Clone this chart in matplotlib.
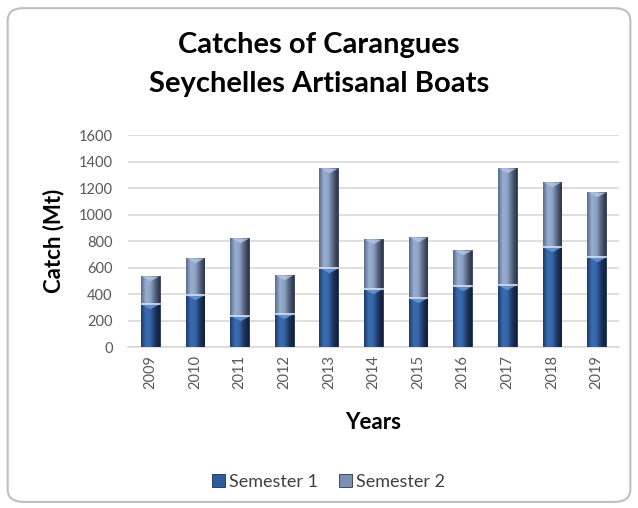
import matplotlib
matplotlib.use("Agg")
import matplotlib.pyplot as plt
import numpy as np
from matplotlib.patches import FancyBboxPatch
from matplotlib.colors import LinearSegmentedColormap

plt.rcParams['font.family'] = ['Lato', 'DejaVu Sans']

years = ['2009', '2010', '2011', '2012', '2013', '2014', '2015', '2016', '2017', '2018', '2019']
semester1 = [328, 393, 234, 252, 597, 436, 371, 459, 471, 756, 680]
totals = [534, 673, 824, 542, 1353, 819, 832, 731, 1353, 1247, 1172]
semester2 = [t - s for t, s in zip(totals, semester1)]
yticks = [0, 200, 400, 600, 800, 1000, 1200, 1400, 1600]

fig = plt.figure(figsize=(6.38, 5.08), dpi=100)
fig.patch.set_facecolor('white')

# rounded frame
frame = FancyBboxPatch((0.012, 0.012), 0.976, 0.972, boxstyle="round,pad=0,rounding_size=0.025",
                       transform=fig.transFigure, facecolor='none', edgecolor='#bfbfbf',
                       linewidth=1.5, zorder=-10)
fig.patches.append(frame)

ax = fig.add_axes([0.2006, 0.3169, 0.7696, 0.4173])
ax.set_facecolor('none')
x = np.arange(len(years))
w = 0.42

b1 = ax.bar(x, semester1, width=w, color='#2f5b99', edgecolor='#1a2f55', linewidth=0.6, zorder=3,
            label='Semester 1')
b2 = ax.bar(x, semester2, width=w, bottom=semester1, color='#7b8fb2', edgecolor='#2c3550',
            linewidth=0.6, zorder=3, label='Semester 2')

# horizontal gradient shading for a bevelled look
cm1 = LinearSegmentedColormap.from_list('s1', ['#1c3a6b', '#3b6cb0', '#3466a8', '#1e3460', '#0f1e3a'])
cm2 = LinearSegmentedColormap.from_list('s2', ['#56698c', '#9aaed0', '#8ea2c4', '#55647f', '#2b3448'])
grad = np.linspace(0, 1, 64).reshape(1, -1)
for bars, cmap in ((b1, cm1), (b2, cm2)):
    for p in bars:
        x0, y0 = p.get_x(), p.get_y()
        im = ax.imshow(grad, cmap=cmap, aspect='auto', extent=(x0, x0 + p.get_width(), y0, y0 + p.get_height()),
                       zorder=3.5, interpolation='bicubic')
        im.set_clip_path(p)

# bevel triangles at the top of each segment
tri = [(-1, 0), (1, 0), (0, -0.55)]
ax.plot(x, semester1, linestyle='none', marker=tri, markersize=12.5, markeredgewidth=0,
        color='#6a98d6', alpha=0.85, zorder=4)
ax.plot(x, totals, linestyle='none', marker=tri, markersize=12.5, markeredgewidth=0,
        color='#b4c4e0', alpha=0.85, zorder=4)
# light separators at segment boundary
for p in b2:
    ax.plot([p.get_x(), p.get_x() + p.get_width()], [p.get_y(), p.get_y()], color='#d9e2f0', lw=1.2, zorder=4.5)

ax.set_xlim(-0.5, len(years) - 0.5)
ax.set_ylim(0, 1600)
ax.set_yticks(yticks)
ax.set_yticklabels([str(v) for v in yticks], fontsize=10.5, color='#595959')
ax.set_xticks(x)
ax.set_xticklabels(years, rotation=90, fontsize=10.5, color='#595959')
ax.tick_params(axis='y', length=0, pad=11)
ax.tick_params(axis='x', length=0, pad=6)
ax.yaxis.grid(True, color='#d9d9d9', linewidth=1.2, zorder=0)
ax.set_axisbelow(True)
for s in ['top', 'right', 'left']:
    ax.spines[s].set_visible(False)
ax.spines['bottom'].set_color('#d9d9d9')
ax.spines['bottom'].set_linewidth(1.2)

ax.set_ylabel('Catch (Mt)', fontsize=16, fontweight='bold', color='black', labelpad=10)
ax.set_xlabel('Years', fontsize=16, fontweight='bold', color='black', labelpad=16)

fig.text(0.5, 1 - 53 / 508, 'Catches of Carangues', ha='center', va='baseline',
         fontsize=21, fontweight='bold')
fig.text(0.5, 1 - 92 / 508, 'Seychelles Artisanal Boats', ha='center', va='baseline',
         fontsize=21, fontweight='bold')

leg = fig.legend(handles=[b1, b2], labels=['Semester 1', 'Semester 2'], loc='center',
                 bbox_to_anchor=(0.515, 0.051), ncol=2, frameon=False, fontsize=13,
                 handlelength=0.7, handleheight=0.7, handletextpad=0.2, columnspacing=1.2)
for t in leg.get_texts():
    t.set_color('#404040')

fig.savefig('out.png', dpi=100)
